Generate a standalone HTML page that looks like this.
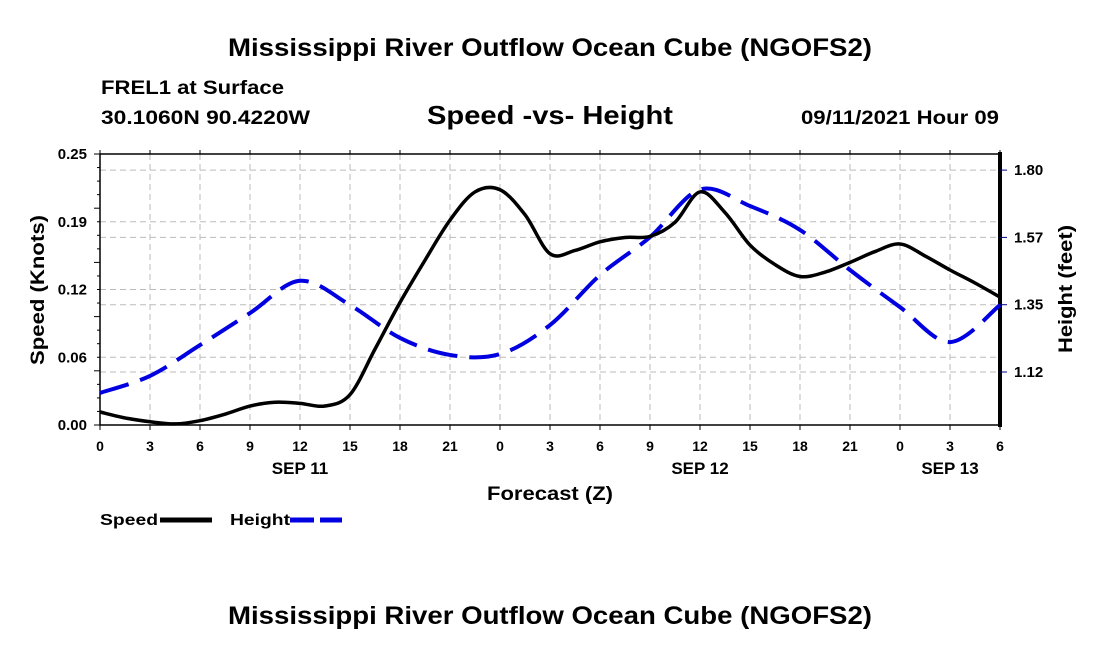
<!DOCTYPE html>
<html><head><meta charset="utf-8"><style>
body{margin:0;background:#fff;}
svg text{font-family:"Liberation Sans",sans-serif;font-weight:bold;fill:#000;}
</style></head><body>
<svg id="c" width="1100" height="650" viewBox="0 0 1100 650" xmlns="http://www.w3.org/2000/svg">
<text x="228" y="56" font-size="25" textLength="644" lengthAdjust="spacingAndGlyphs">Mississippi River Outflow Ocean Cube (NGOFS2)</text>
<text x="101" y="94" font-size="19" textLength="183" lengthAdjust="spacingAndGlyphs">FREL1 at Surface</text>
<text x="101" y="124" font-size="19" textLength="209" lengthAdjust="spacingAndGlyphs">30.1060N  90.4220W</text>
<text x="427" y="124" font-size="26" textLength="246" lengthAdjust="spacingAndGlyphs">Speed -vs- Height</text>
<text x="801" y="124" font-size="19" textLength="198" lengthAdjust="spacingAndGlyphs">09/11/2021 Hour 09</text>
<g id="grid"></g>
<g id="axes"></g>
<g id="series"></g>
<text x="487" y="500" font-size="19" textLength="126" lengthAdjust="spacingAndGlyphs">Forecast (Z)</text>
<text transform="translate(44,365) rotate(-90)" font-size="19" textLength="150" lengthAdjust="spacingAndGlyphs">Speed (Knots)</text>
<text transform="translate(1072,353) rotate(-90)" font-size="19" textLength="128" lengthAdjust="spacingAndGlyphs">Height (feet)</text>
<g>
<text x="100" y="525" font-size="16" textLength="58" lengthAdjust="spacingAndGlyphs">Speed</text>
<line x1="160" y1="520" x2="212" y2="520" stroke="#000" stroke-width="5"/>
<text x="230" y="525" font-size="16" textLength="60" lengthAdjust="spacingAndGlyphs">Height</text>
<line x1="290" y1="520" x2="342" y2="520" stroke="#0000e0" stroke-width="5" stroke-dasharray="24,6"/>
</g>
<text x="228" y="624" font-size="25" textLength="644" lengthAdjust="spacingAndGlyphs">Mississippi River Outflow Ocean Cube (NGOFS2)</text>
</svg>
<script>
const xTickLabels=["0","3","6","9","12","15","18","21","0","3","6","9","12","15","18","21","0","3","6"];
const dayLabels=["SEP 11","SEP 12","SEP 13"];
const dayHours=[12,36,51];
const leftTicks=[0,0.0625,0.125,0.1875,0.25];
const leftTickLabels=["0.00","0.06","0.12","0.19","0.25"];
const rightTicks=[1.125,1.35,1.575,1.8];
const rightTickLabels=["1.12","1.35","1.57","1.80"];
const speedHours=[0,1.5,3,4.5,6,7.5,9,10.5,12,13.5,15,16.5,18,19.5,21,22.5,24,25.5,27,28.5,30,31.5,33,34.5,36,37.5,39,40.5,42,43.5,45,46.5,48,49.5,51,52.5,54];
const speedVals=[0.012,0.0065,0.003,0.001,0.004,0.010,0.0175,0.021,0.020,0.0175,0.028,0.070,0.113,0.152,0.189,0.215,0.217,0.194,0.158,0.161,0.169,0.173,0.174,0.187,0.215,0.196,0.166,0.148,0.137,0.141,0.150,0.160,0.167,0.156,0.143,0.131,0.118];
const heightHours=[0,3,6,9,12,15,18,21,24,27,30,33,36,39,42,45,48,51,54];
const heightVals=[1.055,1.112,1.215,1.322,1.43,1.349,1.239,1.182,1.185,1.282,1.449,1.576,1.735,1.68,1.600,1.466,1.342,1.225,1.349];

const L=100,R=1000,T=154,B=425,NS="http://www.w3.org/2000/svg";
const xs=h=>L+h*(R-L)/54;
const yl=v=>B-v/0.25*(B-T);
const yr=v=>372-(v-1.125)/0.225*67.3;
function mk(p,tag,a){const e=document.createElementNS(NS,tag);for(const k in a)e.setAttribute(k,a[k]);p.appendChild(e);return e;}
const grid=document.getElementById('grid'),axes=document.getElementById('axes'),ser=document.getElementById('series');
for(let i=1;i<18;i++){const g=mk(grid,'line',{x1:xs(i*3),x2:xs(i*3),y1:T,y2:B,stroke:'#bbb','stroke-dasharray':'6,4'});

}
leftTicks.slice(1,4).forEach(v=>{const g=mk(grid,'line',{x1:L,x2:R,y1:yl(v),y2:yl(v),stroke:'#bbb','stroke-dasharray':'6,4'});

});
rightTicks.forEach(v=>{const g=mk(grid,'line',{x1:L,x2:R,y1:yr(v),y2:yr(v),stroke:'#bbb','stroke-dasharray':'6,4'});

});
const frame=mk(axes,'rect',{x:L,y:T,width:R-L,height:B-T,fill:'none',stroke:'#000','stroke-width':1.5});


const ra=mk(axes,'line',{x1:R,x2:R,y1:T-2,y2:B+2,stroke:'#000','stroke-width':4});


xTickLabels.forEach((t,i)=>{const x=xs(i*3);
mk(axes,'line',{x1:x,x2:x,y1:B,y2:B+5,stroke:'#000'});mk(axes,'line',{x1:x,x2:x,y1:T,y2:T-4,stroke:'#000'});
const tx=mk(axes,'text',{x:x,y:451,'font-size':14,'text-anchor':'middle'});tx.textContent=t;

});
dayLabels.forEach((t,i)=>{const tx=mk(axes,'text',{x:xs(dayHours[i]),y:474,'font-size':17,'text-anchor':'middle'});tx.textContent=t;

});
for(let i=0;i<=20;i++){const y=B-i*(B-T)/20;mk(axes,'line',{x1:L-(i%4==0?6:3),x2:L,y1:y,y2:y,stroke:'#000'});}
leftTicks.forEach((v,i)=>{const tx=mk(axes,'text',{x:L-13,y:yl(v)+5,'font-size':15,'text-anchor':'end'});tx.textContent=leftTickLabels[i];

});
rightTicks.forEach((v,i)=>{mk(axes,'line',{x1:R,x2:R+7,y1:yr(v),y2:yr(v),stroke:'#00008b'});
const tx=mk(axes,'text',{x:1014,y:yr(v)+5,'font-size':15});tx.textContent=rightTickLabels[i];

});
function smooth(p){let d=`M${p[0][0]},${p[0][1]}`;for(let i=0;i<p.length-1;i++){const p0=p[i-1]||p[i],p1=p[i],p2=p[i+1],p3=p[i+2]||p2;
d+=`C${p1[0]+(p2[0]-p0[0])/6},${p1[1]+(p2[1]-p0[1])/6} ${p2[0]-(p3[0]-p1[0])/6},${p2[1]-(p3[1]-p1[1])/6} ${p2[0]},${p2[1]}`;}return d;}
const hp=mk(ser,'path',{d:smooth(heightHours.map((h,i)=>[xs(h),yr(heightVals[i])])),fill:'none',stroke:'#0000e0','stroke-width':4,'stroke-dasharray':'30,12'});


const sp=mk(ser,'path',{d:smooth(speedHours.map((h,i)=>[xs(h),yl(speedVals[i])])),fill:'none',stroke:'#000','stroke-width':3.5});


</script>
</body></html>
